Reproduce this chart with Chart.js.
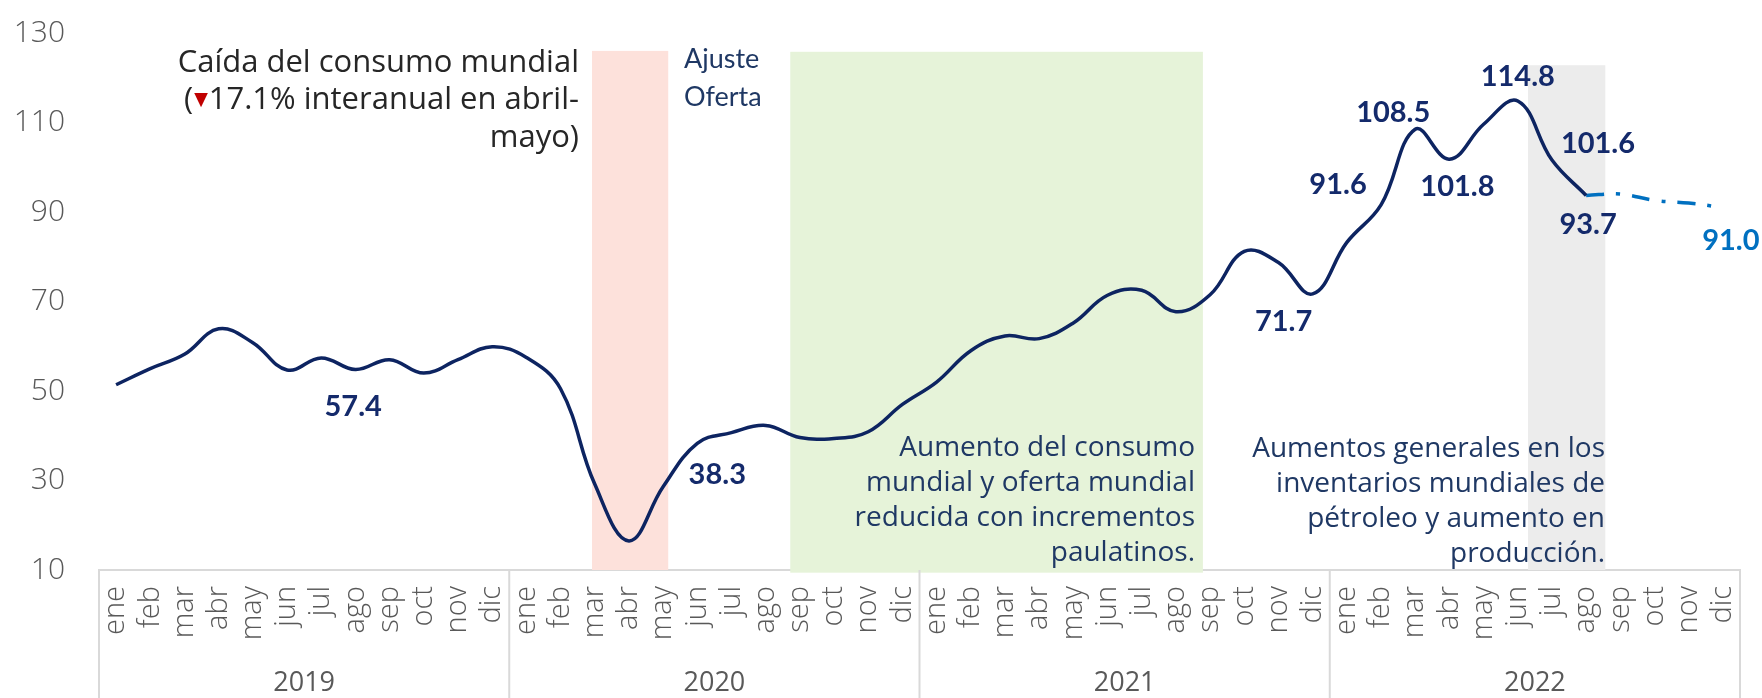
<!DOCTYPE html>
<html lang="es">
<head>
<meta charset="utf-8">
<title>Precio del petróleo WTI 2019-2022</title>
<script src="https://cdn.jsdelivr.net/npm/chart.js@4.4.1/dist/chart.umd.min.js"></script>
<style>
  html, body { margin: 0; padding: 0; background: #fff; }
  #grafico { display: block; }
</style>
</head>
<body>
<canvas id="grafico" width="1762" height="698"></canvas>
<script>
// --- Datos (promedio mensual, US$/barril) ---
const meses = ['ene','feb','mar','abr','may','jun','jul','ago','sep','oct','nov','dic'];
const anios = ['2019','2020','2021','2022'];
const precio2019 = [51.4, 55.0, 58.2, 63.9, 60.8, 54.7, 57.4, 54.8, 57.0, 54.0, 57.0, 59.9];
const precio2020 = [57.5, 50.5, 29.2, 16.5, 28.6, 38.3, 40.7, 42.3, 39.6, 39.4, 40.9, 47.0];
const precio2021 = [52.0, 59.0, 62.3, 61.7, 65.2, 71.4, 72.5, 67.7, 71.5, 81.2, 78.7, 71.7];
const precio2022 = [83.2, 91.6, 108.5, 101.8, 109.6, 114.8, 101.6, 93.7];   // ene-ago
const proyeccion2022 = [93.7, 94.0, 92.6, 92.0, 91.0];                      // ago-dic
const ticksY = { min: 10, max: 130, paso: 20 };

// serie: 0 = observado, 1 = proyección ; i = índice del mes
const etiquetasDatos = [
  { serie: 0, i: 6,  dx: 32,  dy: 49 },
  { serie: 0, i: 17, dx: 20,  dy: 31 },
  { serie: 0, i: 35, dx: -29, dy: 28 },
  { serie: 0, i: 37, dx: -43, dy: -20 },
  { serie: 0, i: 38, dx: -22, dy: -17 },
  { serie: 0, i: 39, dx: 8,   dy: 27 },
  { serie: 0, i: 41, dx: 0,   dy: -24 },
  { serie: 0, i: 42, dx: 46,  dy: -16 },
  { serie: 0, i: 43, dx: 2,   dy: 29 },
  { serie: 1, i: 47, dx: 8,   dy: 33 }
];

// Franjas sombreadas (en unidades de mes / valor)
const franjas = [
  { desde: 13.92, hasta: 16.15, tope: 126.0, base: 10,  color: '#fde1db' },
  { desde: 19.72, hasta: 31.79, tope: 125.8, base: 9.4, color: '#e6f3d9' },
  { desde: 41.30, hasta: 43.56, tope: 122.8, base: 10,  color: '#ececec' }
];

const AZUL = '#0d2461';
const AZUL_TXT = '#1f3864';
const CELESTE = '#0070c0';
const GRIS = '#595959';
const SANS = '"Open Sans", "Noto Sans", sans-serif';

const notas = [
  { lineas: ['Caída del consumo mundial', '(▼17.1% interanual en abril-', 'mayo)'],
    x: 579, y: 63, salto: 37.5, alinear: 'right', tam: 31, familia: SANS, color: '#262626' },
  { lineas: ['Ajuste', 'Oferta'],
    x: 684, y: 59, salto: 38, alinear: 'left', tam: 27, familia: 'Lato, sans-serif', color: AZUL_TXT },
  { lineas: ['Aumento del consumo', 'mundial y oferta mundial', 'reducida con incrementos', 'paulatinos.'],
    x: 1195, y: 448, salto: 35, alinear: 'right', tam: 28, familia: SANS, color: AZUL_TXT },
  { lineas: ['Aumentos generales en los', 'inventarios mundiales de', 'pétroleo y aumento en', 'producción.'],
    x: 1605, y: 449, salto: 35, alinear: 'right', tam: 28, familia: SANS, color: AZUL_TXT }
];

// --- Series armadas ---
const etiquetasMes = anios.flatMap(() => meses);
const serieObservada = [...precio2019, ...precio2020, ...precio2021, ...precio2022];
while (serieObservada.length < etiquetasMes.length) serieObservada.push(null);
const serieProyeccion = Array(etiquetasMes.length - proyeccion2022.length).fill(null).concat(proyeccion2022);

// --- Plugins ---
function pasoMes(x){ return (x.right - x.left) / etiquetasMes.length; }
function pxMes(x, i){ return x.left + (i + 0.5) * pasoMes(x); }

const bandas = {
  id: 'bandas',
  beforeDatasetsDraw(chart){
    const { ctx, scales: { x, y } } = chart;
    ctx.save();
    franjas.forEach(f => {
      const x0 = pxMes(x, f.desde), x1 = pxMes(x, f.hasta);
      const y0 = y.getPixelForValue(f.tope), y1 = y.getPixelForValue(f.base);
      ctx.fillStyle = f.color;
      ctx.fillRect(x0, y0, x1 - x0, y1 - y0);
    });
    ctx.restore();
  }
};

const ejeAnios = {
  id: 'ejeAnios',
  afterDraw(chart){
    const { ctx, scales: { x } } = chart;
    const paso = pasoMes(x);
    const yTop = x.top, yBot = chart.height;
    ctx.save();
    ctx.strokeStyle = '#d9d9d9';
    ctx.lineWidth = 2;
    for (let k = 0; k <= anios.length; k++){
      const px = x.left + k * 12 * paso;
      ctx.beginPath(); ctx.moveTo(px, yTop); ctx.lineTo(px, yBot); ctx.stroke();
    }
    ctx.fillStyle = GRIS;
    ctx.font = `27px ${SANS}`;
    ctx.textAlign = 'center';
    ctx.textBaseline = 'middle';
    anios.forEach((a, k) => ctx.fillText(a, x.left + (k * 12 + 6) * paso, 683));
    ctx.restore();
  }
};

function dibujarLinea(ctx, txt, x, y, alinear, color, tam){
  // el ▼ se dibuja como triángulo rojo
  const partes = txt.split(/(▼)/).filter(Boolean);
  const ancho = p => p === '▼' ? tam * 0.5 : ctx.measureText(p).width;
  const total = partes.reduce((s, p) => s + ancho(p), 0);
  let cx = alinear === 'right' ? x - total : x;
  ctx.textAlign = 'left';
  partes.forEach(p => {
    if (p === '▼'){
      const w = tam * 0.44, h = tam * 0.44;
      ctx.fillStyle = '#c00000';
      ctx.beginPath();
      ctx.moveTo(cx + 1, y - h * 0.55);
      ctx.lineTo(cx + 1 + w, y - h * 0.55);
      ctx.lineTo(cx + 1 + w / 2, y + h * 0.5);
      ctx.closePath(); ctx.fill();
    } else {
      ctx.fillStyle = color;
      ctx.fillText(p, cx, y);
    }
    cx += ancho(p);
  });
}

const textos = {
  id: 'textos',
  afterDraw(chart){
    const { ctx } = chart;
    ctx.save();
    ctx.textBaseline = 'middle';
    notas.forEach(n => {
      ctx.font = `${n.tam}px ${n.familia}`;
      n.lineas.forEach((l, j) => dibujarLinea(ctx, l, n.x, n.y + j * n.salto, n.alinear, n.color, n.tam));
    });
    ctx.restore();
  }
};

const rotulos = {
  id: 'rotulos',
  afterDatasetsDraw(chart){
    const { ctx } = chart;
    ctx.save();
    ctx.font = 'bold 29px Lato, sans-serif';
    ctx.textAlign = 'center';
    ctx.textBaseline = 'middle';
    etiquetasDatos.forEach(e => {
      const p = chart.getDatasetMeta(e.serie).data[e.i];
      const v = chart.data.datasets[e.serie].data[e.i];
      if (!p || v == null) return;
      ctx.fillStyle = e.serie === 1 ? CELESTE : '#142a6b';
      ctx.fillText(v.toFixed(1), p.x + e.dx, p.y + e.dy);
    });
    ctx.restore();
  }
};

// --- Gráfico ---
const grafico = new Chart(document.getElementById('grafico'), {
  type: 'line',
  data: {
    labels: etiquetasMes,
    datasets: [
      { label: 'Observado', data: serieObservada, borderColor: AZUL, borderWidth: 3.5,
        tension: 0.4, pointRadius: 0, spanGaps: false },
      { label: 'Proyección', data: serieProyeccion, borderColor: CELESTE, borderWidth: 3.5,
        borderDash: [18, 12, 4, 12], tension: 0.4, pointRadius: 0 }
    ]
  },
  options: {
    responsive: false,
    animation: false,
    layout: { padding: { top: 33, right: 22, left: 0, bottom: 0 } },
    plugins: { legend: { display: false }, tooltip: { enabled: false } },
    scales: {
      x: {
        offset: true,
        grid: { display: false, drawTicks: false, offset: true },
        border: { display: true, color: '#d9d9d9', width: 2 },
        ticks: { autoSkip: false, maxRotation: 90, minRotation: 90, padding: 16,
                 color: GRIS, font: { family: SANS, size: 29, weight: 300 } },
        // alto fijo del eje y sin relleno lateral extra
        afterFit: s => { s.height = 128; s.paddingLeft = 0; s.paddingRight = 0; }
      },
      y: {
        min: ticksY.min, max: ticksY.max,
        grid: { display: false, drawTicks: false },
        border: { display: false },
        ticks: { stepSize: ticksY.paso, padding: 34, color: GRIS, font: { family: SANS, size: 30, weight: 300 } },
        afterFit: s => { s.width = 99; s.paddingTop = 0; s.paddingBottom = 0; }
      }
    }
  },
  plugins: [bandas, rotulos, textos, ejeAnios]
});
</script>
</body>
</html>
